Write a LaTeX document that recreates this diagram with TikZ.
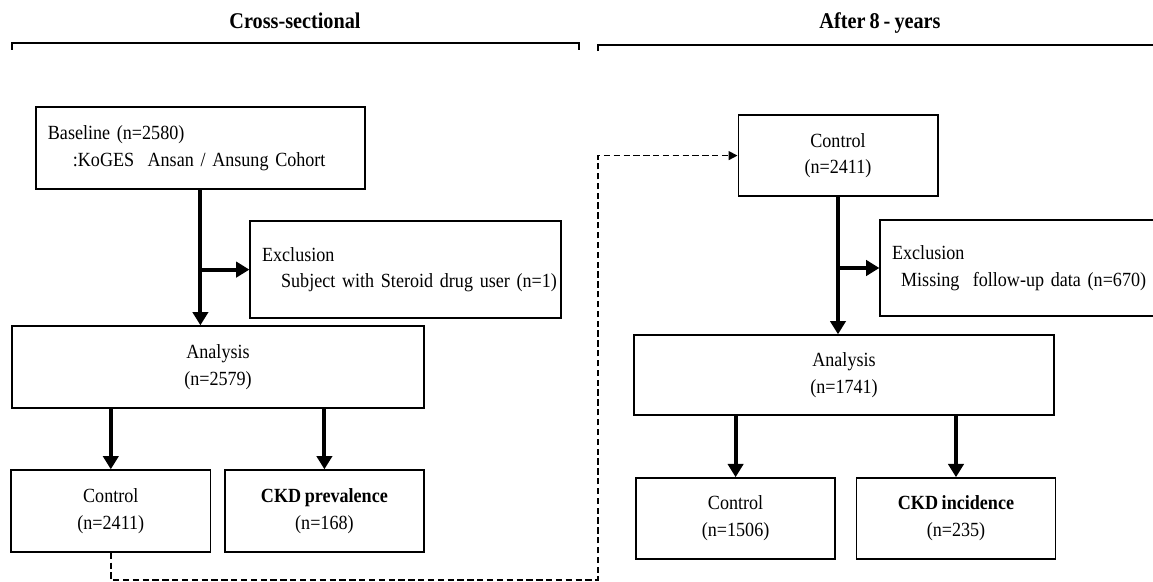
\documentclass[tikz,border=0pt]{standalone}
\usepackage{fontspec}
\setmainfont{Liberation Serif}[FakeStretch=0.9, WordSpace=0.8]
\usetikzlibrary{arrows.meta}
\begin{document}
\begin{tikzpicture}[
  flowbox/.style={draw, rectangle, line width=1pt, minimum height=2.05cm, inner sep=0pt, align=center, font=\fontsize{14.3}{19}\selectfont},
  leftbox/.style={flowbox, align=left, inner sep=0.3cm},
  bigarrow/.style={line width=2.8pt, -{Triangle[length=0.33cm, width=0.38cm]}},
  backarrow/.style={line width=1.1pt, dash pattern=on 4.5pt off 2.5pt, -{Triangle[length=0.22cm, width=0.22cm]}},
  heading/.style={font=\fontsize{16}{19}\selectfont\bfseries}
]
\useasboundingbox (0,0) rectangle (28.825,-14.55);
\clip (0,0) rectangle (28.825,-14.55);

% Headings
\node (cross) at (7.375, -0.525) [heading] {Cross-sectional};
\node (after) at (22.0, -0.575) [heading] {After 8 - years};

% Brackets
\draw[line width=1.4pt] (0.3, -1.25) -- (0.3, -1.075) -- (14.475, -1.075) -- (14.475, -1.25);
\draw[line width=1.4pt] (14.95, -1.28) -- (14.95, -1.125) -- (29.5, -1.125);

% Cross-sectional
\node (base) at (5.01, -3.70) [leftbox, text width=7.625cm] {\mbox{Baseline (n=2580)}\\\mbox{\hspace*{0.625cm}:KoGES\ \ Ansan / Ansung Cohort}};
\node (excl) at (10.14, -6.74) [leftbox, text width=7.175cm, minimum height=2.425cm] {\mbox{Exclusion}\\\mbox{\hspace*{0.475cm}Subject with Steroid drug user (n=1)}};
\node (ana) at (5.45, -9.175) [flowbox, minimum width=10.3cm] {Analysis\\(n=2579)};
\node (ctrl) at (2.77, -12.775) [flowbox, minimum width=4.99cm] {Control\\(n=2411)};
\node (prev) at (8.11, -12.775) [flowbox, minimum width=4.975cm] {\textbf{CKD prevalence}\\(n=168)};

% After 8 years
\node (ctrl2) at (20.95, -3.89) [flowbox, minimum width=4.99cm, minimum height=2.03cm] {Control\\(n=2411)};
\node (excl2) at (25.89, -6.7) [leftbox, text width=7.175cm, minimum height=2.4cm] {\mbox{Exclusion}\\\mbox{\hspace*{0.225cm}Missing\ \ follow-up data (n=670)}};
\node (ana2) at (21.1, -9.375) [flowbox, minimum width=10.5cm, minimum height=2.0cm] {Analysis\\(n=1741)};
\node (ctrl3) at (18.39, -12.96) [flowbox, minimum width=4.975cm, minimum height=2.025cm] {Control\\(n=1506)};
\node (inc) at (23.9, -12.96) [flowbox, minimum width=4.975cm, minimum height=2.025cm] {\textbf{CKD incidence}\\(n=235)};

% Arrows
\draw[bigarrow] (base.south) -- (base.south |- ana.north);
\draw[bigarrow] (base.south |- excl.west) -- (excl.west);
\draw[bigarrow] (ana.south -| ctrl.north) -- (ctrl.north);
\draw[bigarrow] (ana.south -| prev.north) -- (prev.north);
\draw[bigarrow] (ctrl2.south) -- (ctrl2.south |- ana2.north);
\draw[bigarrow] (ctrl2.south |- excl2.west) -- (excl2.west);
\draw[bigarrow] (ana2.south -| ctrl3.north) -- (ctrl3.north);
\draw[bigarrow] (ana2.south -| inc.north) -- (inc.north);

% Follow-up link
\coordinate (low) at (14.95, -14.5);
\draw[backarrow] (ctrl.south) |- (low) |- (ctrl2.west);

\end{tikzpicture}
\end{document}
